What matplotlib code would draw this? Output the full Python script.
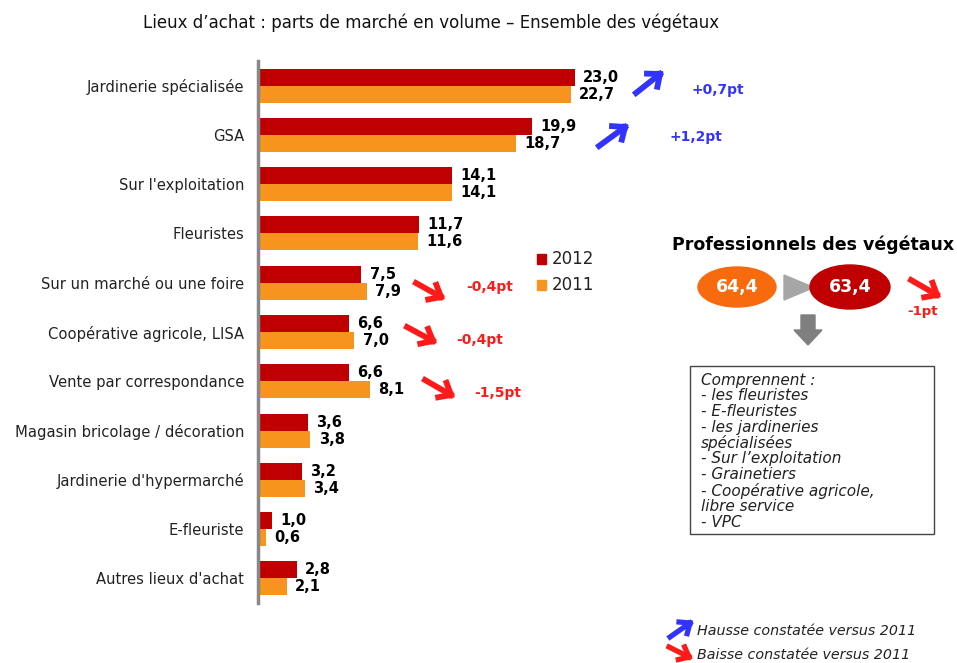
import matplotlib
matplotlib.use("Agg")
import numpy as np
import matplotlib.pyplot as plt
from matplotlib.lines import Line2D
from matplotlib.patches import Ellipse, Polygon, Rectangle

categories = ["Jardinerie spécialisée", "GSA", "Sur l'exploitation", "Fleuristes",
              "Sur un marché ou une foire", "Coopérative agricole, LISA",
              "Vente par correspondance", "Magasin bricolage / décoration",
              "Jardinerie d'hypermarché", "E-fleuriste", "Autres lieux d'achat"]
values_2012 = [23.0, 19.9, 14.1, 11.7, 7.5, 6.6, 6.6, 3.6, 3.2, 1.0, 2.8]
values_2011 = [22.7, 18.7, 14.1, 11.6, 7.9, 7.0, 8.1, 3.8, 3.4, 0.6, 2.1]
series_labels = ["2012", "2011"]
changes = {0: "+0,7pt", 1: "+1,2pt", 4: "-0,4pt", 5: "-0,4pt", 6: "-1,5pt"}
pro_2011, pro_2012, pro_change = "64,4", "63,4", "-1pt"
box_lines = ["Comprennent :", "- les fleuristes", "- E-fleuristes", "- les jardineries",
             "spécialisées", "- Sur l\u2019exploitation", "- Grainetiers",
             "- Coopérative agricole,", "libre service", "- VPC"]

RED = "#C00000"
ORANGE = "#F7941D"
BLUE = "#3333FF"
ARED = "#FF1A1A"

W, H = 957, 663
fig = plt.figure(figsize=(W / 100, H / 100), dpi=100)
ax = fig.add_axes([258 / W, 1 - 603 / H, (602.5 - 258) / W, (603 - 61) / H])
n = len(categories)
bh = 0.345
for i, (v12, v11) in enumerate(zip(values_2012, values_2011)):
    ax.barh(i - bh / 2, v12, height=bh, color=RED, label=series_labels[0] if i == 0 else None)
    ax.barh(i + bh / 2, v11, height=bh, color=ORANGE, label=series_labels[1] if i == 0 else None)
    ax.text(v12 + 0.6, i - bh / 2, f"{v12:.1f}".replace(".", ","), va="center", ha="left",
            fontsize=10.5, fontweight="bold", family="DejaVu Sans")
    ax.text(v11 + 0.6, i + bh / 2, f"{v11:.1f}".replace(".", ","), va="center", ha="left",
            fontsize=10.5, fontweight="bold", family="DejaVu Sans")
ax.set_xlim(0, 25)
ax.set_ylim(n - 0.5, -0.5)
ax.set_yticks(range(n))
ax.set_yticklabels(categories, fontsize=10.6, family="DejaVu Sans", color="#222222")
ax.tick_params(axis="y", length=0, pad=10)
ax.set_xticks([])
for s in ["top", "right", "bottom"]:
    ax.spines[s].set_visible(False)
ax.spines["left"].set_color("#888888")
ax.spines["left"].set_linewidth(2.5)


def fx(x):
    return x / W


def fy(y):
    return 1 - y / H


fig.text(fx(143), fy(23), "Lieux d\u2019achat : parts de marché en volume \u2013 Ensemble des végétaux",
         fontsize=12, family="DejaVu Sans", va="center", ha="left", color="#111111")

# legend
for lbl, col, y in [(series_labels[0], RED, 259), (series_labels[1], ORANGE, 285)]:
    fig.patches.append(Rectangle((fx(537), fy(y + 5)), 9 / W, 10 / H, color=col,
                                 transform=fig.transFigure, figure=fig))
    fig.text(fx(552), fy(y), lbl, fontsize=12, family="DejaVu Sans", va="center", ha="left",
             color="#222222")


def arrow(x0, y0, x1, y1, col, head=13, lw=4.2):
    d = np.array([x1 - x0, y1 - y0], dtype=float)
    d /= np.hypot(*d)
    segs = [[(x0, y0), (x1, y1)]]
    for ang in (np.radians(40), -np.radians(40)):
        c, s = np.cos(ang), np.sin(ang)
        r = np.array([c * -d[0] - s * -d[1], s * -d[0] + c * -d[1]])
        segs.append([(x1, y1), (x1 + head * r[0], y1 + head * r[1])])
    for seg in segs:
        xs = [fx(p[0]) for p in seg]
        ys = [fy(p[1]) for p in seg]
        fig.lines.append(Line2D(xs, ys, color=col, lw=lw, solid_capstyle="projecting",
                                transform=fig.transFigure, figure=fig))


# change arrows and texts
arrow(636, 93, 660, 74, BLUE)
fig.text(fx(718), fy(90), changes[0], color=BLUE, fontsize=10, fontweight="bold", va="center",
         ha="center")
arrow(599, 146, 625, 127, BLUE)
fig.text(fx(696), fy(137), changes[1], color=BLUE, fontsize=10, fontweight="bold", va="center",
         ha="center")
arrow(416, 283, 441, 297, ARED)
fig.text(fx(490), fy(287), changes[4], color=ARED, fontsize=10, fontweight="bold", va="center",
         ha="center")
arrow(407, 327, 433, 341, ARED)
fig.text(fx(480), fy(340), changes[5], color=ARED, fontsize=10, fontweight="bold", va="center",
         ha="center")
arrow(425, 380, 451, 395, ARED)
fig.text(fx(498), fy(393), changes[6], color=ARED, fontsize=10, fontweight="bold", va="center",
         ha="center")

# right panel
fig.text(fx(813), fy(245), "Professionnels des végétaux", fontsize=12.5, fontweight="bold",
         family="DejaVu Sans", ha="center", va="center")
fig.patches.append(Ellipse((fx(737), fy(287)), 78 / W, 40 / H, color="#F86A0E",
                           transform=fig.transFigure, figure=fig))
fig.text(fx(737), fy(287), pro_2011, color="white", fontsize=12.5, fontweight="bold",
         ha="center", va="center")
fig.patches.append(Polygon([(fx(784), fy(275)), (fx(784), fy(300)), (fx(814), fy(287.5))],
                           closed=True, color="#A6A6A6", transform=fig.transFigure, figure=fig))
fig.patches.append(Ellipse((fx(850), fy(287)), 80 / W, 44 / H, color=RED,
                           transform=fig.transFigure, figure=fig))
fig.text(fx(850), fy(287), pro_2012, color="white", fontsize=12.5, fontweight="bold",
         ha="center", va="center")
arrow(911, 280, 937, 295, ARED)
fig.text(fx(922), fy(311), pro_change, color=ARED, fontsize=9.5, fontweight="bold",
         ha="center", va="center")
# gray block arrow down
fig.patches.append(Polygon([(fx(801), fy(315)), (fx(815), fy(315)), (fx(815), fy(330)),
                            (fx(822), fy(330)), (fx(808), fy(345)), (fx(794), fy(330)),
                            (fx(801), fy(330))], closed=True, color="#7F7F7F",
                           transform=fig.transFigure, figure=fig))
# box
fig.patches.append(Rectangle((fx(690), fy(534)), 244 / W, 168 / H, fill=False,
                             edgecolor="#444444", lw=1, transform=fig.transFigure, figure=fig))
for k, line in enumerate(box_lines):
    fig.text(fx(701), fy(380 + k * 15.8), line, fontsize=11, style="italic",
             family="DejaVu Sans", ha="left", va="center", color="#222222")

# bottom legend
arrow(670, 637, 690, 623, BLUE, head=11, lw=3.8)
fig.text(fx(697), fy(631), "Hausse constatée versus 2011", fontsize=10.3, style="italic",
         family="DejaVu Sans", ha="left", va="center", color="#222222")
arrow(669, 647, 689, 657, ARED, head=11, lw=3.8)
fig.text(fx(697), fy(655), "Baisse constatée versus 2011", fontsize=10.3, style="italic",
         family="DejaVu Sans", ha="left", va="center", color="#222222")

fig.savefig("out.png", dpi=100, facecolor="white")
